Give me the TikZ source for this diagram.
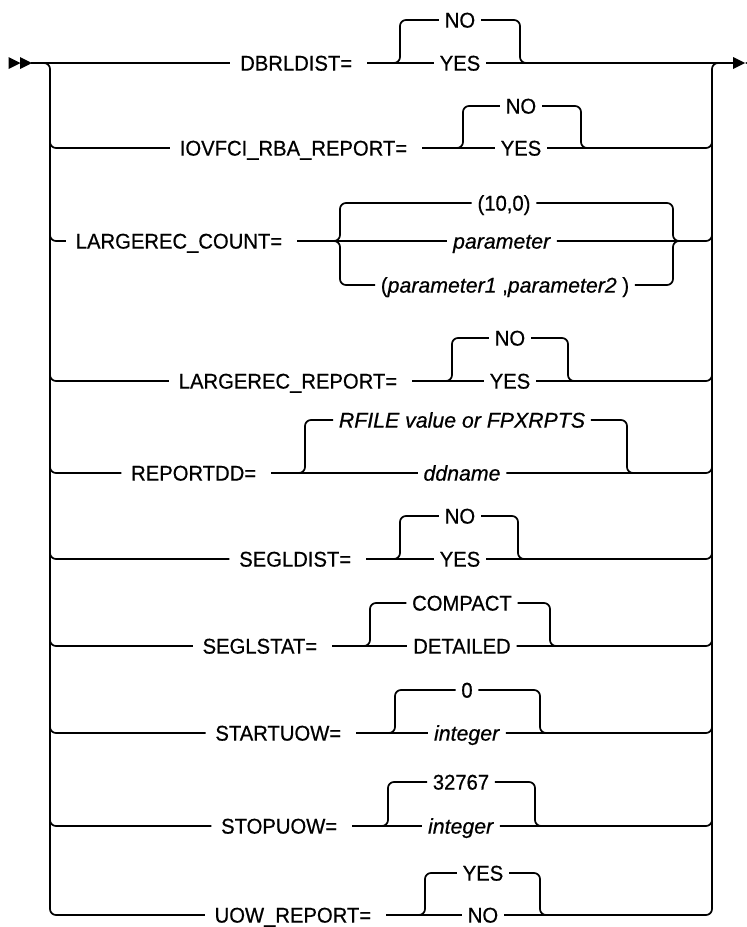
\documentclass[tikz,border=0pt]{standalone}
\usepackage{fontspec}
\setmainfont{Liberation Sans}[FakeBold=0.6, UprightFeatures={FakeStretch=0.95}, ItalicFeatures={FakeStretch=1.0}]
\begin{document}
\begin{tikzpicture}[x=1bp,y=-1bp,
  line width=1.7bp,
  rc/.style={rounded corners=6bp},
  txt/.style={font=\fontsize{21.3bp}{25bp}\selectfont, text height=15.2bp, text depth=0pt, inner ysep=0pt},
  val/.style={txt, inner xsep=5bp},
  lbl/.style={txt, inner xsep=9bp}]
\useasboundingbox (0,0) rectangle (747,927);

% junction coordinates on the two verticals
\foreach \n/\y in {1/63,2/148,3/241,4/381,5/473,6/559,7/646,8/733,9/826,10/915}{
  \coordinate (lv\n) at (50,\y);
  \coordinate (rv\n) at (712,\y);
}

% start and end marks
\fill (8.5,57) -- (20.5,63) -- (8.5,69) -- cycle;
\fill (20,57) -- (32,63) -- (20,69) -- cycle;
\coordinate (start) at (31,63);
\coordinate (endtip) at (734,63);
\fill (733,57) -- (745,63) -- (733,69) -- cycle;
\fill (757,57) -- (745,63) -- (757,69) -- cycle;

% rows with two alternatives
\foreach \n/\y/\xe/\lab/\xl/\xr/\yt/\cx/\ta/\tb in {
 1/63/353/DBRLDIST=/400/520/20/460/NO/YES,
 2/148/408/IOVFCI\_RBA\_REPORT=/463/581/106/521/NO/YES,
 4/381/398/LARGEREC\_REPORT=/452/568/338/510/NO/YES,
 5/473/257/REPORTDD=/305/627/420/462/\textit{RFILE value or FPXRPTS}/\textit{ddname},
 6/559/352/SEGLDIST=/400/518/516/460/NO/YES,
 7/646/318/SEGLSTAT=/370/550/603/462/COMPACT/DETAILED,
 8/733/342/STARTUOW=/395/540/690/467/0/\textit{integer},
 9/826/338/STOPUOW=/388/535/782/461/32767/\textit{integer},
 10/915/372/UOW\_REPORT=/425/540/873/483/YES/NO}{
  \node[lbl,anchor=east] (r\n-lab) at (\xe+9,\y) {\lab};
  \node[val] (r\n-top) at (\cx,\yt) {\ta};
  \node[val] (r\n-bot) at (\cx,\y) {\tb};
  \coordinate (r\n-L) at (\xl,\y);
  \coordinate (r\n-R) at (\xr,\y);
  \coordinate (r\n-LT) at (\xl,\yt);
  \coordinate (r\n-RT) at (\xr,\yt);
  \draw ([xshift=5bp]r\n-lab.east) -- (r\n-bot.west);
  \draw[rc] ([xshift=-8bp]r\n-L) -- (r\n-L) -- (r\n-LT) -- (r\n-top.west);
  \draw[rc] (r\n-top.east) -- (r\n-RT) -- (r\n-R) -- ([xshift=8bp]r\n-R);
}

% row 3: three alternatives
\node[lbl,anchor=east] (r3-lab) at (292,241) {LARGEREC\_COUNT=};
\node[val] (r3-top) at (504,203) {(10,0)};
\node[val] (r3-bot) at (502,241) {\textit{parameter}};
\node[val] (r3-low) at (505,285) {(\textit{parameter1} ,\textit{parameter2} )};
\coordinate (r3-L) at (340,241);
\coordinate (r3-R) at (673,241);
\coordinate (r3-LT) at (340,203);
\coordinate (r3-LB) at (340,285);
\coordinate (r3-RT) at (673,203);
\coordinate (r3-RB) at (673,285);
\draw ([xshift=5bp]r3-lab.east) -- (r3-bot.west);
\draw[rc] (r3-top.west) -- (r3-LT) -- (r3-L) -- ([xshift=-8bp]r3-L);
\draw[rc] (r3-low.west) -- (r3-LB) -- (r3-L) -- ([xshift=-8bp]r3-L);
\draw[rc] (r3-top.east) -- (r3-RT) -- (r3-R) -- ([xshift=8bp]r3-R);
\draw[rc] (r3-low.east) -- (r3-RB) -- (r3-R) -- ([xshift=8bp]r3-R);

% main line of the first row
\draw (start) -- (r1-lab.west);
\draw (r1-bot.east) -- (endtip);

% left and right verticals
\draw[rc] ([xshift=-10bp]lv1) -- (lv1) -- (lv10) -- (r10-lab.west);
\draw[rc] ([xshift=10bp]rv1) -- (rv1) -- (rv10) -- (r10-bot.east);
\foreach \n in {2,...,9}{
  \draw[rc] ([yshift=12bp]lv\n) -- (lv\n) -- (r\n-lab.west);
  \draw[rc] (r\n-bot.east) -- (rv\n) -- ([yshift=12bp]rv\n);
}
\end{tikzpicture}
\end{document}
